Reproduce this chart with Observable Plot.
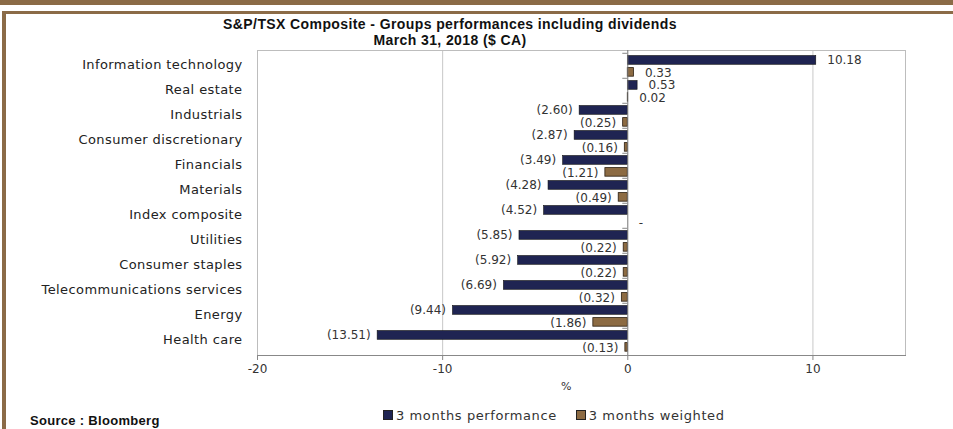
<!DOCTYPE html>
<html><head><meta charset="utf-8">
<script src="https://cdn.jsdelivr.net/npm/d3@7"></script>
<script src="https://cdn.jsdelivr.net/npm/@observablehq/plot@0.6"></script>
<style>
body{margin:0;background:#fff;}
#wrap{position:relative;width:953px;height:429px;overflow:hidden;background:#fff;font-family:"DejaVu Sans",sans-serif;}
.b{position:absolute;background:#8B6B47;z-index:2;}
#title{position:absolute;z-index:2;left:0;width:900px;top:16px;text-align:center;font-family:"Liberation Sans",Arial,sans-serif;font-weight:bold;font-size:14px;letter-spacing:0.4px;line-height:16px;color:#111;}
#chart{position:absolute;left:0;top:0;z-index:1;}
#pct{position:absolute;z-index:2;left:561px;top:380px;font-size:11px;color:#333;}
#legend{position:absolute;z-index:2;left:383px;top:408px;font-size:13px;letter-spacing:0.6px;color:#333;display:flex;gap:19px;white-space:nowrap;}
#legend span.sw{display:inline-block;width:8px;height:8px;border:1px solid #222;margin-right:3px;vertical-align:0px;}
#source{position:absolute;z-index:2;left:30px;top:413px;font-family:"Liberation Sans",Arial,sans-serif;font-weight:bold;font-size:13px;letter-spacing:0.3px;color:#111;}
</style></head><body>
<div id="wrap">
  <div class="b" style="left:0;top:0;width:953px;height:5px"></div>
  <div class="b" style="left:2px;top:11px;width:951px;height:3px"></div>
  <div class="b" style="left:2px;top:11px;width:4px;height:418px"></div>
  <div id="title">S&amp;P/TSX Composite - Groups performances including dividends<br>March 31, 2018 ($ CA)</div>
  <div id="chart"></div>
  <div id="pct">%</div>
  <div id="legend"></div>
  <div id="source">Source : Bloomberg</div>
</div>
<script>
const categories = ["Information technology","Real estate","Industrials","Consumer discretionary","Financials","Materials","Index composite","Utilities","Consumer staples","Telecommunications services","Energy","Health care"];
const perf3m = [10.18, 0.53, -2.60, -2.87, -3.49, -4.28, -4.52, -5.85, -5.92, -6.69, -9.44, -13.51];
const weighted3m = [0.33, 0.02, -0.25, -0.16, -1.21, -0.49, null, -0.22, -0.22, -0.32, -1.86, -0.13];
const seriesNames = ["3 months performance", "3 months weighted"];
const seriesColors = ["#1F2452", "#8C6B43"];
const xTicks = [-20, -10, 0, 10];
const xDomain = [-20, 15];

const rows = categories.map((c, i) => ({category: c, perf: perf3m[i], w: weighted3m[i]}));
const fmt = v => v == null ? "-" : (v < 0 ? "(" + Math.abs(v).toFixed(2) + ")" : v.toFixed(2));

const W = 953, H = 395, mT = 50, mB = 40;
const band = (H - mT - mB) / categories.length;

const chart = Plot.plot({
  width: W, height: H,
  marginTop: mT, marginBottom: mB, marginLeft: 257, marginRight: 48,
  style: {fontFamily: "DejaVu Sans, sans-serif", fontSize: "12px", color: "#333", background: "transparent"},
  x: {domain: xDomain},
  y: {type: "band", domain: categories, padding: 0},
  marks: [
    Plot.ruleX([-10, 10], {stroke: "#c8c8c8"}),
    Plot.frame({stroke: "#bdbdbd"}),
    Plot.barX(rows, {x: "perf", y: "category", fill: seriesColors[0], stroke: "#111", strokeWidth: 0.6, insetTop: 2.5, insetBottom: band - 11.7}),
    Plot.barX(rows, {filter: d => d.w != null, x: "w", y: "category", fill: seriesColors[1], stroke: "#2a1d10", strokeWidth: 0.8, insetTop: 14.6, insetBottom: band - 23.6}),
    Plot.ruleX([0], {stroke: "#777"}),
    Plot.ruleY(categories, {y: d => d, x1: -0.27, x2: 0, dy: -band / 2, stroke: "#888"}),
    Plot.frame({anchor: "bottom", stroke: "#888"}),
    Plot.text(rows, {filter: d => d.perf < 0, x: "perf", y: "category", text: d => fmt(d.perf), textAnchor: "end", dx: -7, dy: -5.5, fill: "#333"}),
    Plot.text(rows, {filter: d => d.perf >= 0, x: "perf", y: "category", text: d => fmt(d.perf), textAnchor: "start", dx: 11, dy: -5.5, fill: "#333"}),
    Plot.text(rows, {filter: d => d.w != null && d.w < 0, x: "w", y: "category", text: d => fmt(d.w), textAnchor: "end", dx: -7, dy: 7, fill: "#333"}),
    Plot.text(rows, {filter: d => d.w == null || d.w >= 0, x: d => d.w == null ? 0 : d.w, y: "category", text: d => fmt(d.w), textAnchor: "start", dx: 11, dy: 7, fill: "#333"}),
    Plot.axisY({tickSize: 0, tickPadding: 15, fontSize: 13, label: null, fill: "#222", dy: -1}),
    Plot.axisX({ticks: xTicks, tickSize: 5, tickPadding: 4, tickFormat: d => String(d), label: null, stroke: "#888", fill: "#333"})
  ]
});
chart.querySelectorAll("[aria-label='y-axis tick label']").forEach(g => g.setAttribute("letter-spacing", "0.4"));
document.getElementById("chart").appendChild(chart);

const legend = document.getElementById("legend");
seriesNames.forEach((n, i) => {
  const item = document.createElement("div");
  item.innerHTML = `<span class="sw" style="background:${seriesColors[i]}"></span>${n}`;
  legend.appendChild(item);
});
</script>
</body></html>
